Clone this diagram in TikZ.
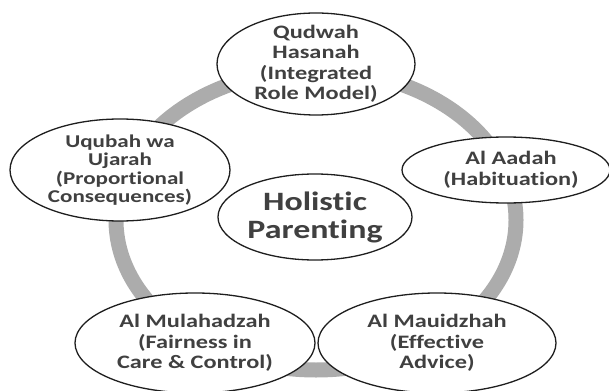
\documentclass[tikz,border=0pt]{standalone}
\usepackage{fontspec}
\usepackage{xcolor}
\usepackage{tikz}
\usetikzlibrary{positioning, shapes.geometric}
\newfontfamily\diagfont{Carlito}[FakeStretch=1.28, Ligatures=NoCommon]
\definecolor{hpRing}{RGB}{172, 172, 172}
\definecolor{hpText}{RGB}{64, 64, 64}
\definecolor{hpLine}{RGB}{30, 30, 30}

\begin{document}
\begin{tikzpicture}[x=1pt, y=-1pt,
  oval/.style={ellipse, draw=hpLine, line width=1.3pt, fill=white, inner sep=0pt},
  txt/.style={text=hpText, align=center, font=\diagfont\bfseries\fontsize{19}{20.5}\selectfont},
  bigtxt/.style={text=hpText, align=center, font=\diagfont\bfseries\fontsize{26.5}{28}\selectfont}]
  \clip (0,0) rectangle (609,390);

  % Ring
  \draw[hpRing, line width=15pt] (316,220) ellipse [x radius=200pt, y radius=150pt];

  % Outer ovals
  \node[oval, minimum width=198pt, minimum height=102pt,
    label={[txt]center:Qudwah\\Hasanah\\(Integrated\\Role Model)}] (qudwah) at (316,64) {};
  \node[oval, minimum width=208pt, minimum height=66pt,
    label={[txt, xshift=5pt]center:Al Aadah\\(Habituation)}] (aadah) at (506,170) {};
  \node[oval, minimum width=220pt, minimum height=102pt,
    label={[txt, font=\diagfont\bfseries\fontsize{18}{18.5}\selectfont]center:Uqubah wa\\Ujarah\\(Proportional\\Consequences)}] (uqubah) at (120,170) {};
  \node[oval, minimum width=240pt, minimum height=100pt,
    label={[txt]center:Al Mulahadzah\\(Fairness in\\Care \& Control)}] (mulahadzah) at (195,343) {};
  \node[oval, minimum width=238pt, minimum height=100pt,
    label={[txt]center:Al Mauidzhah\\(Effective\\Advice)}] (mauidzhah) at (437,343) {};

  % Centre
  \node[oval, minimum width=194pt, minimum height=86pt,
    label={[bigtxt]center:Holistic\\Parenting}] (holistic) at (315,217) {};
\end{tikzpicture}
\end{document}
